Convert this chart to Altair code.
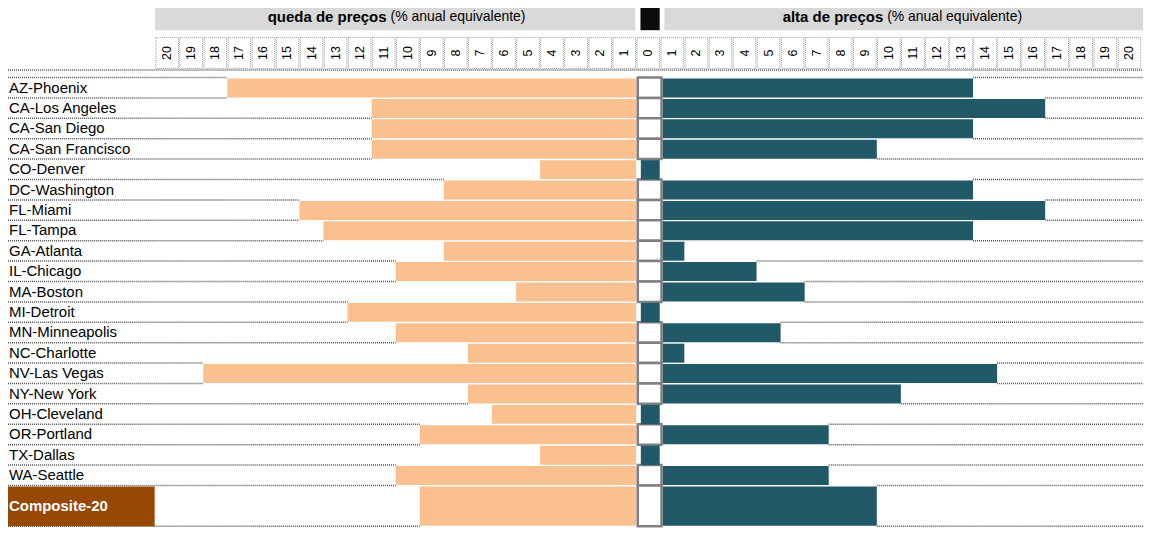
import altair as alt
import pandas as pd

# ---------------- data ----------------
cidades = ["AZ-Phoenix", "CA-Los Angeles", "CA-San Diego", "CA-San Francisco", "CO-Denver",
           "DC-Washington", "FL-Miami", "FL-Tampa", "GA-Atlanta", "IL-Chicago", "MA-Boston",
           "MI-Detroit", "MN-Minneapolis", "NC-Charlotte", "NV-Las Vegas", "NY-New York",
           "OH-Cleveland", "OR-Portland", "TX-Dallas", "WA-Seattle", "Composite-20"]
queda = [17, 11, 11, 11, 4, 8, 14, 13, 8, 10, 5, 12, 10, 7, 18, 7, 6, 9, 4, 10, 9]
alta = [13, 16, 13, 9, 0, 13, 16, 13, 1, 4, 6, 0, 5, 1, 14, 10, 0, 7, 0, 7, 9]
altura_linha = [1] * 20 + [2]

ticks_queda = [20, 19, 18, 17, 16, 15, 14, 13, 12, 11, 10, 9, 8, 7, 6, 5, 4, 3, 2, 1]
ticks_zero = [0]
ticks_alta = [1, 2, 3, 4, 5, 6, 7, 8, 9, 10, 11, 12, 13, 14, 15, 16, 17, 18, 19, 20]

titulo_esq_negrito = "queda de preços"
titulo_dir_negrito = "alta de preços"
titulo_sufixo = "(% anual equivalente)"

# ---------------- style ----------------
PEACH = "#FAC090"
TEAL = "#215968"
BROWN = "#974706"
HEADER_GRAY = "#D9D9D9"
BORDER_GRAY = "#808080"
FONT = "Liberation Sans"

U_MIN, U_MAX = -26.2, 21.19
V_MIN, V_MAX = -3.619, 22.15
xs = alt.Scale(domain=[U_MIN, U_MAX], nice=False, zero=False)
ys = alt.Scale(domain=[V_MIN, V_MAX], nice=False, zero=False, reverse=True)

# ---------------- tables ----------------
v0, v1 = [], []
acc = 0
for h in altura_linha:
    v0.append(acc)
    acc += h
    v1.append(acc)

rows = pd.DataFrame({"cidade": cidades, "queda": queda, "alta": alta, "v0": v0, "v1": v1})
rows["vm"] = (rows.v0 + rows.v1) / 2
rows["comp"] = [c == "Composite-20" for c in cidades]
rows["q_neg"] = -rows.queda
rows["zero_u"] = 0.0
rows["a_start"] = 1.095
rows["a_end"] = 1 + rows.alta
rows["bar_y0"] = rows.v0 + 0.05
rows["bar_y1"] = rows.v1 - 0.02
rows["zb0"] = 0.062
rows["zb1"] = 1.05
rows["zt0"] = 0.19
rows["zt1"] = 0.975
rows["lab_u"] = U_MIN
rows["lab_u1"] = -20.02

# tick cells
tk = []
for k in ticks_queda:
    tk.append({"lab": str(k), "u0": -k, "u1": -k + 1})
for k in ticks_zero:
    tk.append({"lab": str(k), "u0": 0, "u1": 1})
for k in ticks_alta:
    tk.append({"lab": str(k), "u0": k, "u1": k + 1})
ticks = pd.DataFrame(tk)
ticks["um"] = (ticks.u0 + ticks.u1) / 2
ticks["c0"] = ticks.u0 + 0.03
ticks["c1"] = ticks.u1 - 0.03
ticks["y0"] = -1.956
ticks["y1"] = -0.44
ticks["ym"] = -1.198

# header bands
bands = pd.DataFrame({
    "u0": [-20, 0.174, 1.17], "u1": [-0.037, 0.975, 21.07],
    "y0": [V_MIN, V_MIN, V_MIN], "y1": [-2.32, -2.32, -2.32],
    "cor": [HEADER_GRAY, "#0D0D0D", HEADER_GRAY]})

head_bold = pd.DataFrame({"t": [titulo_esq_negrito, titulo_dir_negrito], "u": [-10.38, 10.265], "y": [-2.98, -2.98]})
head_norm = pd.DataFrame({"t": [titulo_sufixo, titulo_sufixo], "u": [-10.216, 10.43], "y": [-2.98, -2.98]})

# separators (dotted) at row boundaries
sep = []
bounds = [0] + v1
for bi, bv in enumerate(bounds):
    above = bi - 1 if bi - 1 >= 0 else None
    below = bi if bi < len(cidades) else None
    qs = [queda[j] for j in (above, below) if j is not None]
    as_ = [alta[j] for j in (above, below) if j is not None]
    sep.append({"v": bv, "l0": U_MIN, "l1": -max(qs), "r0": 1 + max(as_), "r1": 21.07})
seps = pd.DataFrame(sep)
header_line = pd.DataFrame({"v": [-0.367], "l0": [U_MIN], "l1": [21.07]})

# ---------------- layers ----------------
def X(f):
    return alt.X(f, type="quantitative", scale=xs, axis=None)

def Y(f):
    return alt.Y(f, type="quantitative", scale=ys, axis=None)

band_layer = alt.Chart(bands).mark_rect().encode(
    x=X("u0"), x2="u1", y=Y("y0"), y2="y1", color=alt.Color("cor:N", scale=None))

hb = alt.Chart(head_bold).mark_text(align="right", baseline="middle", font=FONT, fontSize=15,
                                    fontWeight="bold", color="#000").encode(x=X("u"), y=Y("y"), text="t:N")
hn = alt.Chart(head_norm).mark_text(align="left", baseline="middle", font=FONT, fontSize=14,
                                    color="#000").encode(x=X("u"), y=Y("y"), text="t:N")

tick_cells = alt.Chart(ticks).mark_rect(fill="white", stroke="#9a9a9a", strokeWidth=1,
                                        strokeDash=[1, 1]).encode(
    x=X("c0"), x2="c1", y=Y("y0"), y2="y1")
tick_text = alt.Chart(ticks).mark_text(angle=270, align="center", baseline="middle", font=FONT,
                                       fontSize=12.5, color="#000").encode(
    x=X("um"), y=Y("ym"), text="lab:N")

hline = alt.Chart(header_line).mark_rule(color="#555", strokeWidth=1.5, strokeDash=[1, 1]).encode(
    x=X("l0"), x2="l1", y=Y("v"))
sep_l = alt.Chart(seps).mark_rule(color="#555", strokeWidth=1.5, strokeDash=[1, 1]).encode(
    x=X("l0"), x2="l1", y=Y("v"))
sep_r = alt.Chart(seps).mark_rule(color="#555", strokeWidth=1.5, strokeDash=[1, 1]).encode(
    x=X("r0"), x2="r1", y=Y("v"))

left_bars = alt.Chart(rows).mark_rect(color=PEACH).encode(
    x=X("q_neg"), x2="zero_u", y=Y("bar_y0"), y2="bar_y1")

right_bars = alt.Chart(rows).transform_filter("datum.alta > 0").mark_rect(color=TEAL).encode(
    x=X("a_start"), x2="a_end", y=Y("bar_y0"), y2="bar_y1")

zero_box = alt.Chart(rows).transform_filter("datum.alta > 0").mark_rect(
    fill="white", stroke=BORDER_GRAY, strokeWidth=2.5).encode(
    x=X("zb0"), x2="zb1", y=Y("v0"), y2="v1")

zero_teal = alt.Chart(rows).transform_filter("datum.alta == 0").mark_rect(color=TEAL).encode(
    x=X("zt0"), x2="zt1", y=Y("bar_y0"), y2="v1")

comp_box = alt.Chart(rows).transform_filter("datum.comp").mark_rect(color=BROWN).encode(
    x=X("lab_u"), x2="lab_u1", y=Y("bar_y0"), y2="v1")

labels = alt.Chart(rows).transform_filter("!datum.comp").mark_text(
    align="left", baseline="middle", font=FONT, fontSize=15, color="#000", dx=3).encode(
    x=X("lab_u"), y=Y("vm"), text="cidade:N")

comp_label = alt.Chart(rows).transform_filter("datum.comp").mark_text(
    align="left", baseline="middle", font=FONT, fontSize=15, fontWeight="bold", color="white", dx=3).encode(
    x=X("lab_u"), y=Y("vm"), text="cidade:N")

chart = alt.layer(
    band_layer, hb, hn, tick_cells, tick_text, hline, sep_l, sep_r,
    left_bars, right_bars, zero_box, zero_teal, comp_box, labels, comp_label
).properties(
    width=1143, height=527,
    padding={"left": -3, "top": -5, "right": 0, "bottom": 0},
    background="white"
).configure_view(strokeWidth=0)

chart.save("out.html", embed_options={"renderer": "svg", "actions": False})
